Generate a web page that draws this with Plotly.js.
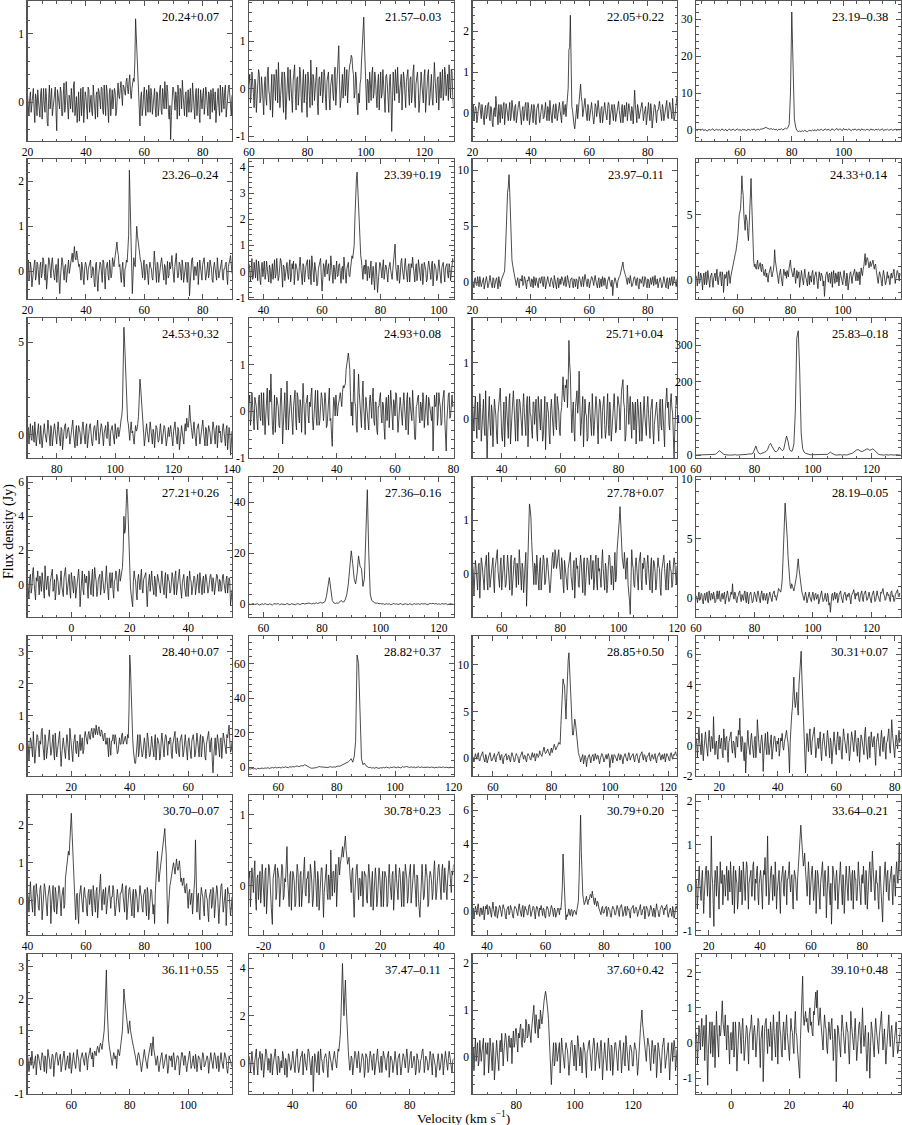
<!DOCTYPE html>
<html><head><meta charset="utf-8">
<script src="https://cdn.plot.ly/plotly-3.0.1.min.js"></script>
<style>html,body{margin:0;padding:0;background:#fff}</style>
</head><body><div id="chart" style="width:902px;height:1125px"></div>
<script>
// ---- source names ----
const names = ['20.24+0.07','21.57–0.03','22.05+0.22','23.19–0.38',
'23.26–0.24','23.39+0.19','23.97–0.11','24.33+0.14',
'24.53+0.32','24.93+0.08','25.71+0.04','25.83–0.18',
'27.21+0.26','27.36–0.16','27.78+0.07','28.19–0.05',
'28.40+0.07','28.82+0.37','28.85+0.50','30.31+0.07',
'30.70–0.07','30.78+0.23','30.79+0.20','33.64–0.21',
'36.11+0.55','37.47–0.11','37.60+0.42','39.10+0.48'];
// ---- axis ranges (km/s, Jy) ----
const xRange = [[20,90],[60,130],[20,90],[43,122],
[20,90],[35,105],[20,90],[44,122],
[70,140],[10,80],[30,100],[60,130],
[-15,55],[55,125],[50,120],[60,130],
[5,75],[50,120],[53,123],[12,82],
[40,110],[-25,45],[35,105],[15,95],
[45,115],[25,95],[65,135],[-12,58]];
const yRange = [[-0.57,1.48],[-1.1,1.84],[-0.7,2.75],[-3,35],
[-0.62,2.5],[-1.05,4.3],[-1.5,11],[-1.5,9.3],
[-1.25,6.3],[-1.0,2.0],[-0.7,1.8],[-8,375],
[-1.9,6.3],[-5,50],[-0.8,1.8],[-1.6,10.2],
[-0.9,3.5],[-5,76],[-1.9,13.1],[-2,7.2],
[-0.9,2.78],[-0.7,1.28],[-1.4,6.9],[-1.1,2.15],
[-1.0,3.4],[-1.3,4.6],[-0.8,2.2],[-1.45,2.53]];
const xTicks = [[20,40,60,80],[60,80,100,120],[20,40,60,80],[60,80,100],
[20,40,60,80],[40,60,80,100],[20,40,60,80],[60,80,100],
[80,100,120,140],[20,40,60,80],[40,60,80,100],[60,80,100,120],
[0,20,40],[60,80,100,120],[60,80,100,120],[60,80,100,120],
[20,40,60],[60,80,100,120],[60,80,100,120],[20,40,60,80],
[40,60,80,100],[-20,0,20,40],[40,60,80,100],[20,40,60,80],
[60,80,100],[40,60,80],[80,100,120],[0,20,40]];
const yTicks = [[0,1],[-1,0,1],[0,1,2],[0,10,20,30],
[0,1,2],[-1,0,1,2,3,4],[0,5,10],[0,5],
[0,5],[-1,0,1],[0,1],[0,100,200,300],
[0,2,4,6],[0,20,40],[0,1],[0,5,10],
[0,1,2,3],[0,20,40,60],[0,5,10],[-2,0,2,4,6],
[0,1,2],[0,1],[0,2,4,6],[-1,0,1,2],
[-1,0,1,2,3],[0,2,4],[0,1,2],[-1,0,1,2]];
// velocity of first and last channel of each spectrum (channels evenly spaced)
const vFirst = [20,60,20,43,20,35,20,44,70,10,30,60,-15,55,50,60,5,50,53,12,40,-25,35,15,45,25,65,-12];
const vLast  = [90,130,90,122,90,105,90,122,140,80,100,130,55,125,120,130,75,120,123,82,110,45,105,95,115,95,135,58];

// ---- flux density spectra (Jy) ----
const flux_20_24 = [.1,-.1,-.2,.05,.15,-.15,-.05,.1,.2,-.1,-.3,.12,.05,-.2,.18,.02,-.1,-.22,.12,.2,-.25,.08,.2,-.05,-.15,.2,.08,-.3,-.35,.05,.25,-.1,.1,.2,-.2,-.08,-.05,.15,.22,-.12,-.42,.18,.1,-.05,-.1,.22,.15,-.2,-.2,.1,.28,-.15,-.05,.3,.12,-.18,-.25,.1,.05,-.1,.2,.02,-.15,.25,.3,-.2,-.1,.08,-.3,.12,.15,-.28,.05,.2,-.2,.05,.22,-.3,-.12,.15,.08,-.1,-.25,.22,.18,-.15,.02,.1,-.15,-.2,.25,.12,-.05,-.25,.1,.15,-.22,.2,.15,-.05,-.1,.22,.2,-.12,-.18,.25,.05,-.2,.25,.15,-.08,-.3,.12,.2,-.2,.05,.18,-.1,0,.2,.15,-.2,-.12,.25,.28,.1,.05,.2,.3,.1,-.05,.25,.22,.15,.1,.3,.35,.2,.12,.3,.4,.15,.05,.2,.25,.35,.3,.6,1.22,.95,.62,.3,.18,-.15,-.35,.05,.15,-.2,-.1,.12,.22,-.05,-.2,.18,.08,-.15,.25,.1,-.15,.2,.1,-.18,-.05,.12,.2,-.1,-.22,.15,.12,-.2,-.08,.18,.25,-.12,-.18,.2,.05,-.1,.3,.05,-.1,.25,.15,-.15,-.25,-.05,-.55,-.2,.1,.22,.2,-.05,-.12,.15,.05,-.25,.25,.1,-.2,.2,.15,-.1,.32,.12,-.05,-.2,.1,.15,-.22,.05,.18,-.15,.05,.2,-.15,-.1,.28,.02,-.08,-.25,.12,.2,-.2,.05,.2,-.15,-.3,.18,.05,-.1,.1,.2,-.18,-.05,.22,.15,-.05,-.2,.15,.1,-.25,.18,.08,-.15,.2,.05,-.12,.15,-.3,-.1,.12,.2,-.08,-.2,.25,.1,-.15,.22,.05,-.1,.18,.25,-.22,-.05,.1,.2,.25,.1,-.05,-.2,.1];
const flux_21_57 = [.1,.3,-.3,-.1,.35,.2,-.1,-.4,.2,.1,-.5,-.2,.15,.4,.3,-.3,-.2,.25,.05,-.35,-.55,.1,.25,-.2,-.35,.3,.45,-.05,-.15,-.45,.1,.3,-.6,-.2,.3,.15,-.25,.4,.2,-.3,.55,.05,-.4,-.15,.1,.35,-.2,-.5,.35,.2,-.65,-.3,.2,.45,-.1,-.25,.4,.1,-.3,-.5,.15,.35,.5,-.1,-.45,.2,.25,-.35,-.1,.45,.3,-.2,-.5,.1,.4,-.3,.05,.3,-.25,-.6,.35,.2,-.15,-.4,.6,.1,-.35,.3,.2,-.25,-.05,.15,.45,-.3,-.55,.2,.25,-.15,.1,.35,-.3,-.1,.4,.25,-.2,-.45,.15,.3,.35,-.2,-.45,.05,.2,.3,-.1,-.25,.3,.45,-.35,.05,.25,.5,.9,.2,-.4,-.25,.15,.3,-.2,.1,.45,-.15,.1,.4,-.3,.25,.35,.5,.55,.7,.65,.4,.3,-.2,-.1,.35,.2,-.3,-.55,-.1,-.3,.1,.2,.6,1.05,1.2,1.5,.9,.4,-.1,-.45,.2,.15,-.3,.35,.1,-.25,.3,.45,-.2,-.1,.35,.2,-.15,-.4,.1,.3,-.45,.05,.35,-.2,-.1,.4,.15,-.35,-.5,.25,.3,.1,-.4,-.5,.15,.3,-.15,-.9,-.3,.35,.1,-.25,.4,.2,-.1,.45,.2,-.3,-.05,.1,.3,-.45,-.1,.35,.2,-.2,-.4,.15,.25,.4,-.1,-.35,.2,.25,-.3,-.1,.35,.5,-.2,-.4,.1,.2,.35,.05,-.5,-.3,.2,.35,.1,-.15,-.3,.25,.4,-.5,-.1,.15,.3,.4,-.35,-.2,.15,.3,-.2,-.35,.1,.55,.2,-.1,-.3,.2,.25,-.45,.1,.35,-.2,.1,.4,-.25,-.1,.45,.3,-.15,.05,.3,-.25,.5,.1,-.2,.4,.35,-.15,-.4];
const flux_22_05 = [.05,.2,-.2,-.05,.15,.1,-.25,-.1,.1,.25,.2,-.05,-.15,.2,.05,-.2,-.3,.1,.18,-.15,-.05,.2,.25,-.1,-.2,.15,.1,-.25,-.35,.05,.12,-.1,.4,.15,-.1,-.3,.2,.05,-.25,.2,.05,-.15,.15,.25,-.3,-.05,.22,.1,-.1,-.2,.08,.25,-.2,-.1,.3,.15,-.05,-.2,.15,.2,-.25,-.05,.1,.2,.28,.05,-.15,-.3,.05,.15,-.2,-.1,.18,.25,-.1,-.2,.25,.1,-.3,-.15,.12,.2,-.05,-.25,.2,.1,-.18,-.3,.1,.2,.22,-.05,-.25,-.1,.05,.2,.15,-.15,-.12,.1,.25,-.05,-.2,.15,.08,-.2,.3,.05,-.15,-.25,.1,.2,-.05,-.15,.22,.1,-.2,-.05,.15,.25,.05,-.1,-.25,.2,.28,-.05,.1,.2,-.1,.1,.35,.6,1.55,1.6,2.4,.5,.15,.05,-.2,-.3,-.4,-.1,.1,.2,-.15,.05,.3,.45,.7,.4,.25,-.1,.05,.2,.35,.1,-.1,-.2,.2,.1,-.2,-.05,.15,.25,.05,-.1,-.28,-.1,.22,.15,-.1,.05,.3,.1,-.15,-.25,.1,.15,-.25,-.1,.2,.25,.05,-.15,-.18,.1,.25,.2,-.3,-.05,.12,.2,-.05,-.2,.2,.1,-.22,-.1,.1,.2,.28,.05,-.15,-.25,.05,.2,-.25,-.05,.18,-.1,.1,.25,-.2,-.05,.22,.1,-.05,-.2,.15,.05,-.28,.15,.55,.2,-.1,-.25,.2,.1,-.15,-.05,.05,.2,.25,.1,-.2,-.05,.1,.15,-.3,-.15,.15,.25,-.05,-.2,.22,.05,-.38,-.15,.1,.2,.18,-.1,-.25,.05,.05,.15,.28,.1,-.12,-.2,.2,.1,-.2,-.05,.1,.25,.3,-.1,-.15,.1,.25,.15,-.05,-.15,.35,.1,-.2,-.1,.15,.3,.4];
const flux_23_19 = [.1,-.2,.2,0,-.1,.3,-.2,.1,0,-.3,.2,-.1,.1,.3,-.2,0,.2,-.1,.1,-.2,.3,0,-.1,.2,-.3,.1,.2,-.1,0,.2,-.2,.1,.3,-.1,.1,-.2,.2,0,.1,-.3,.2,.1,-.1,.2,0,.3,-.2,.1,.2,-.1,.3,.2,.4,.5,.7,.5,.3,.2,.4,.1,.3,0,.2,-.1,.2,.1,.3,0,.2,.5,.3,.6,1.5,10,32,17,3,.8,-.2,-.4,-.3,-.5,-.2,-.4,-.1,-.3,-.5,-.2,-.1,-.3,0,-.2,.1,-.3,.2,-.1,0,.2,-.2,.1,.3,-.1,.2,0,-.2,.3,.1,-.1,.2,.4,-.1,.3,.1,-.2,.4,0,.2,-.1,.3,.1,-.2,.2,0,.3,-.1,.1,.2,-.2,.3,0,.1,-.1,.2,.1,-.2,.3,0,.1,-.1,.2,0,.2,-.1,.1,.3,-.2,.1,0,.2,-.1,.1,.2,-.1,0,.2,-.1,.1,0,.2];
const flux_23_26 = [.1,.25,-.2,-.1,.2,.05,-.35,-.1,.05,.15,.25,-.2,-.1,.2,.15,-.25,-.3,.1,.2,-.15,-.05,.3,.25,-.05,-.2,.15,-.4,-.2,.1,.3,.22,-.1,-.15,.2,.3,.05,-.1,-.2,.05,.15,-.25,.1,.28,-.2,-.5,-.15,.1,.3,.2,-.05,-.2,.1,.15,-.25,-.1,.2,.25,-.05,.05,.2,.3,.4,.2,.35,.55,.3,.25,.45,.35,.2,.1,.15,-.05,-.2,.2,.1,-.15,-.3,.05,.2,.15,-.1,-.2,.05,.1,.2,.25,-.15,-.1,.1,.05,-.25,-.35,.15,.2,-.2,-.45,-.1,.1,.2,.15,-.1,-.25,.25,.2,-.1,-.4,.05,.12,.2,-.1,-.2,.25,.1,-.15,-.05,.3,.2,.1,.25,.35,.5,.65,.45,.35,.1,.15,-.1,-.25,.05,.2,-.15,-.35,.05,.1,.25,.2,.5,.8,2.25,1.3,.75,.2,-.5,-.2,.3,.15,.1,.6,1.0,.8,.65,.45,.3,.25,.2,.05,-.15,.1,.25,-.2,-.1,.15,.15,-.1,-.3,.05,.2,.1,.05,-.15,-.2,.1,.45,.2,-.1,-.25,.2,.15,-.25,-.05,.1,.2,.3,.05,-.05,-.2,.15,.1,-.3,.05,.22,-.15,-.1,.2,.05,.15,.35,.1,-.2,-.25,.1,.2,.4,.05,-.15,-.1,.2,.15,-.05,-.2,.25,.1,-.25,-.1,.1,.2,-.1,-.25,.2,.1,-.55,-.2,.15,.25,.3,-.05,-.2,.1,.1,-.1,.05,.2,-.3,-.05,.25,.1,-.1,-.2,.15,.25,.3,.05,-.2,-.1,.1,.2,-.15,-.05,.25,.15,.05,-.2,-.25,.1,.2,.05,-.1,-.2,.3,.1,-.15,-.05,.1,.2,.25,-.1,-.2,.05,.05,.15,.2,-.1,-.3,.1,.15,.25,.35,.1,-.05];
const flux_23_39 = [.3,.1,-.4,.2,.5,-.3,-.2,.35,.1,-.25,.45,.1,-.35,.4,.2,-.3,-.5,.15,.35,-.2,.05,.4,-.3,-.1,.4,.2,-.15,-.4,.25,.1,-.45,.2,.3,-.3,.1,.45,-.25,-.1,.5,.2,-.35,-.2,.15,.5,.4,-.1,-.6,.25,.2,-.35,-.1,.3,.35,-.1,-.3,.2,.45,-.4,-.2,.3,.1,.4,-.5,-.1,.3,.2,.05,-.35,-.25,.2,.55,.1,-.15,-.5,.3,.2,-.4,.1,.2,.35,.45,-.2,-.3,.45,.1,-.5,.6,.2,-.2,-.4,.35,.15,-.1,-.55,-.45,.1,.25,.4,.5,-.2,-.75,-.3,.3,.15,-.2,.35,.45,-.1,.1,.3,-.35,-.1,.6,.2,-.1,-.45,.25,.15,-.3,.35,.4,-.2,-.15,.25,.3,-.1,-.45,.1,.2,-.3,.55,.2,-.25,-.45,.1,.3,.35,-.15,-.2,.1,.3,.6,.5,.7,1.0,2.0,3.0,3.5,3.8,3.0,2.5,1.5,1.0,.6,.4,.1,-.3,.2,.25,-.1,.45,.1,-.35,.2,.15,-.25,.3,.4,-.5,-.1,.2,-.3,-.7,.1,.35,-.2,-.8,-.4,.1,.35,.3,-.1,-.25,.2,.45,-.3,-.1,.25,.2,-.1,-.4,.05,.3,.35,.05,-.2,-.3,.1,.4,.6,1.05,.2,-.2,-.35,.25,.1,-.45,-.2,.35,.5,.1,-.1,-.3,.2,.5,.1,-.15,-.4,.2,.3,-.4,-.1,.3,.15,.55,.2,-.25,-.4,.1,.3,-.35,-.1,.45,.2,-.1,-.35,.2,.3,-.5,-.15,.35,.2,.05,-.4,-.3,.15,.4,.2,-.15,-.3,.25,.4,-.55,-.1,.3,.2,.1,-.35,-.25,.15,.45,.1,-.2,-.45,.15,.35,.35,-.1,-.4,.15,.2,.3,-.1,-.25,.3,.15,-.35,-.1,.25,.5,.4];
const flux_23_97 = [.2,-.1,-.5,.3,.4,-.2,-.3,.5,.1,-.4,.5,.2,-.4,-.1,.2,.4,-.6,-.2,.3,.5,.1,-.5,-.3,.2,.6,.1,-.2,-.5,.4,.3,-.5,.1,.2,.4,-.1,-.6,.5,.2,-.4,.1,.3,.4,.6,.7,1.0,2.5,5.0,7.0,8.0,8.5,9.6,8.0,5.2,3.5,2.0,1.5,1.1,.8,.6,.2,-.3,.1,.4,-.2,-.5,.3,.2,.1,.6,-.3,-.2,.5,.3,-.4,-.6,.2,.1,.5,.4,-.2,-.4,.3,.2,-.5,.5,.1,-.3,.4,.1,-.2,-.5,.3,.4,-.1,.2,.5,-.2,-.4,.5,.3,-.6,-.1,.3,.5,.1,-.4,-.4,.2,.4,.1,-.1,-.5,.6,.3,-.3,-.6,.2,.4,-.5,.2,.3,-.2,.5,.4,-.2,-.3,.1,.5,-.4,-.1,.6,.3,-.3,-.5,.2,.4,.4,-.2,-.5,.3,.1,-.4,.3,.2,-.6,-.1,.5,.3,-.2,-.4,.2,.5,-.4,.1,.7,.3,-.1,-.4,.3,.2,-.5,-.2,.2,.5,.4,-.3,-.3,.3,.6,.1,-.2,-.5,.1,.4,-.5,.2,.3,-.4,.5,.2,-.3,.4,.2,-.5,-.6,.1,.4,.5,.1,-.3,-.4,.2,-1.2,-.3,.3,.4,.2,-.2,-.5,.1,.4,.5,.6,1.0,1.3,1.6,1.8,1.2,.8,.7,.5,.1,-.2,.4,.3,-.1,.6,.2,-.4,-.3,.2,.4,.5,-.2,-.3,.3,.4,-.4,-.6,.3,.2,-.1,.1,.5,-.4,-.2,.5,.4,-.2,-.5,.3,.2,-.5,.1,.4,-.2,.2,.5,-.3,.4,.6,-.2,-.1,.3,-.5,-.1,.3,.4,.1,-.5,-.4,.3,.5,.1,-.2,-.5,.3,.4,-.6,.1,.4,-.3,.1,.5,-.3,-.1,.5,.2,-.2,-.4,.3];
const flux_24_33 = [.3,.1,-.5,.2,.6,-.3,-.2,.5,.4,-.1,-.8,.2,.5,-.4,.1,.6,-.4,-.1,.7,.2,-.3,-.6,.2,.4,.5,-.2,-.6,.1,.4,.5,-.1,.3,.8,-.2,-.4,.2,.3,.6,-.2,-.5,.6,.3,-1.0,-.3,.4,.1,.2,.6,-.5,.2,.7,.3,-.3,.2,.5,.8,1.0,1.2,1.5,1.8,2.0,2.2,2.5,3.0,3.5,4.5,5.0,5.2,5.5,6.5,8.0,7.0,6.5,5.0,4.0,3.8,5.0,4.8,4.5,3.5,3.0,4.0,5.5,7.0,7.8,6.0,4.0,2.5,1.5,1.0,1.2,.9,.8,1.2,1.5,.8,1.0,1.1,1.3,.8,.6,1.2,1.0,.5,.3,.6,.8,.2,.5,.1,-.2,.4,.6,.8,1.0,.4,.2,.5,.7,1.2,2.3,1.5,1.0,.6,.4,.1,-.3,.3,.6,.8,.2,-.1,-.5,.3,.8,.5,.3,.6,.1,.7,.5,.2,.9,1.2,1.5,.9,.6,.4,.2,.5,.9,.3,-.3,.2,.7,.1,.4,.6,-.6,-.1,.5,.7,.2,-.3,-.4,.4,.8,.2,.1,-.2,-.5,.3,.6,-.4,.3,.1,-.2,.5,.7,.1,-.4,.2,.5,.6,.2,-.5,-.7,.1,.6,.2,-.1,.5,.4,.2,-.5,-.1,-1.3,-.2,.3,.5,.6,.1,-.2,.4,.5,-.3,.1,.6,-.6,.2,.7,.1,-.3,.5,.4,-.2,.2,.6,-.5,-.1,.6,.3,.1,-.3,-.4,.4,.7,.2,-.2,-.5,.5,.3,-.8,-.2,.3,.5,.6,.1,-.3,.2,.4,.5,.8,.3,-.1,.6,.5,-.1,.2,.6,-.4,.3,.9,.5,.3,.8,1.0,1.5,2.0,1.1,1.3,1.7,1.6,1.0,.9,1.2,1.4,1.0,1.1,1.3,1.5,1.0,.8,1.1,1.2,.7,.4,.1,-.3,.2,.6,.4,.2,-.3,-.5,.3,.7,.4,.1,-.4,-.2,.4,.6,.1,.3,-.2,-.4,.3,.5,.1,.2,.6,.8,.2,-.3,.1,.4,.7,.6,.2,-.1,.5,.3];
const flux_24_53 = [.2,.4,-.5,.1,.6,-.2,-.3,.5,.1,-.4,.7,.2,-.6,-.1,.3,.6,-.2,-.5,.5,.1,-.7,-.2,.4,.6,.1,-.3,-.4,.2,.8,.3,-.2,-.6,.5,.2,-.6,.1,.3,.6,.1,-.4,-.5,.3,.7,.1,-.3,-.6,.4,.3,-.8,-.1,.2,.5,.6,-.2,-.1,.3,.4,.1,-.5,-.2,.3,.5,.8,.1,-.4,-.7,.2,.5,-.6,-.2,.5,.3,.1,-.5,-.3,.4,.7,.2,-.2,-.5,.4,.6,-.7,-.2,.3,.5,.6,-.1,-.4,-.6,.1,.4,.5,-.2,-.3,.4,.8,.2,-.5,-.1,.2,.6,.4,-.3,-.6,.1,.3,.5,-.1,-.2,.7,.4,-.4,-.6,.2,.3,.5,.1,-.3,-.5,.6,.2,-.2,.3,.4,-.1,.1,.4,.8,1.0,1.5,3.0,5.8,5.0,4.0,2.0,1.0,.8,.6,.2,-.3,.3,.7,.1,.2,-.2,-.5,.1,.5,.2,.3,.6,1.0,2.0,3.0,2.5,2.0,1.2,.5,.1,-.6,-.2,.4,.6,.2,-.3,-.4,.2,.7,.3,-.2,-.5,.3,.1,-.7,-.2,.5,.4,.1,-.4,-.3,.3,.6,.1,-.5,-.2,.2,.5,.4,-.1,-.6,-.3,.3,.4,-.1,.2,.5,.1,-.4,-.6,.2,.4,.7,.1,-.3,-.5,.4,.2,-.8,-.3,.3,.5,.1,-.2,-.5,.3,.6,.2,.9,.5,.4,.8,1.6,.9,.5,.1,-.2,.3,.7,.1,-.4,-.6,.3,.5,.6,.1,-.5,-.2,.2,.6,.8,.2,-.3,-.6,.4,.3,-.6,-.2,.5,.3,.1,-.5,-.4,.2,.7,.4,-.2,-.5,.3,.5,-.7,-.2,.5,.1,.2,-.4,-.4,.3,.6,.2,-.1,-.6,.3,.5,-.8,-.2,.4,.1,-1.1,-.5,.2];
const flux_24_93 = [.2,.35,-.3,-.1,.4,.1,-.1,-.4,.3,.2,.1,-.2,-.4,.25,.35,-.1,-.2,.4,.15,-.3,.4,.1,-.5,-.1,.25,.5,-.1,-.3,.45,.2,.8,.1,-.3,-.5,.2,.35,-.45,-.1,.3,.2,.1,-.3,-.35,.2,.5,.1,-.7,-.3,.2,.4,-.15,-.4,.65,.2,-.4,-.1,.3,.35,.05,-.2,-.5,.1,.35,.45,-.2,-.4,.4,.3,-.1,-.25,.25,.1,-.45,-.1,.6,.25,-.3,-.5,.15,.3,.35,-.1,-.25,.2,.1,.35,.5,-.2,-.4,-.1,.2,.45,-.1,-.3,.45,.15,-.3,-.2,.1,.4,.3,-.1,-.2,.1,.4,.2,-.35,-.3,.05,.3,.5,-.2,-.15,-.5,-.75,-.1,.3,.2,-.1,.35,.2,-.1,.1,.25,.3,.4,.25,.1,.4,.55,.5,.6,.6,.9,1.05,1.2,1.25,1.1,.9,.3,-.1,.2,-.3,.4,.9,.2,.1,-.3,-.45,.3,.8,.4,.2,-.2,-.35,.3,.65,.1,-.2,-.4,.3,.1,.05,-.3,-.4,.2,.35,.1,-.15,.3,.5,-.2,-.3,.2,.2,-.4,-.5,.1,.1,.3,.4,-.1,-.25,.2,.15,-.35,-.6,.1,.3,-.2,.05,.35,-.35,.1,.45,.2,-.2,-.4,.25,.15,-.1,.4,.35,-.1,-.45,-.2,.2,.3,.1,-.2,-.3,.15,.4,.1,-.15,-.4,.25,.4,-.5,-.2,.3,.1,-.05,-.2,.45,.2,-.2,-.6,-.6,.1,.15,.3,.35,-.1,-.25,.2,.1,-.2,.4,.3,-.35,-.1,.2,.35,-.1,-.3,.3,.15,.05,-.2,-.2,.1,-.85,-.3,.35,.1,.15,.4,-.3,-.1,.4,.2,.1,-.3,-.25,.2,.3,.45,-.15,-.4,-.85,-.2,.2,.35,.4,-.15,-.1,.2,.35,.1,.15];
const flux_25_71 = [.3,.1,-.2,.2,.4,-.1,-.35,.3,.1,-.2,.45,.2,-.4,-.1,.2,.35,-.15,-.3,.5,.1,-.75,-.2,.3,.4,-.1,-.3,.25,.1,-.5,-.15,.35,.2,.05,-.3,-.45,.1,.2,.4,.55,-.1,-.3,-.4,.1,.3,-.5,-.1,.4,.15,-.2,-.35,.3,.45,-.45,-.1,.15,.3,.5,.1,-.25,-.4,.2,.35,-.4,-.1,.35,.3,.1,-.2,-.3,.2,.45,.1,-.15,-.3,.25,.4,-.5,-.2,.4,.1,.05,-.2,-.35,.3,.3,-.1,.15,.35,-.25,-.4,.4,.2,-.1,-.2,.35,.1,-.4,-.3,.2,.4,-.55,-.1,.3,.2,.1,-.3,-.45,.15,.35,.1,-.2,-.3,.25,.45,-.1,-.2,.4,.3,.15,-.2,-.3,.1,.2,.5,.75,.4,.3,.6,.55,.7,.2,.6,1.4,1.0,.8,.2,-.25,.1,.3,-.2,-.4,.2,.35,.5,.1,.3,.85,.2,-.3,-.1,.2,.4,-.5,-.2,.35,.1,.05,-.4,-.35,.2,.3,.1,-.15,-.3,.45,.2,-.3,-.1,.1,.4,.25,-.2,-.45,.1,.35,.3,-.2,-.35,.15,.3,.4,-.1,-.35,-.2,.2,.45,-.1,-.3,.3,.1,-.4,-.2,.15,.35,.45,.1,-.25,-.2,.1,.4,.3,.2,-.2,.4,.5,.6,.7,.3,.2,-.4,-.3,.1,.6,.3,-.1,.2,.4,-.1,-.35,.3,.25,-.2,.1,.3,-.45,-.1,.35,.2,-.15,-.4,.3,.1,-.4,-.2,.2,.4,.05,-.25,-.3,.2,.4,.1,-.2,-.35,.15,.3,.35,-.2,-.45,-.1,.1,.3,.3,.1,-.25,-.4,.2,.35,-.1,-.2,.35,.1,-.3,-.5,.15,.4,.55,.2,.3,-.1,-.2,.3,.45,.2,.1,-.3,-.7,-.2,.3,.4,.25];
const flux_25_83 = [0,0,1,0,0,1,0,0,1,0,0,1,1,2,4,8,12,9,5,2,1,0,1,0,0,1,0,1,0,0,1,0,1,2,1,2,3,2,3,5,14,25,12,5,3,4,6,8,10,15,26,32,24,15,10,9,13,22,18,12,15,30,52,38,16,10,12,30,120,320,340,230,60,18,8,5,3,2,1,1,1,0,1,0,1,1,0,1,2,1,2,5,8,5,2,1,0,1,0,1,0,1,1,0,1,2,3,5,8,12,14,15,12,10,10,12,15,17,16,13,15,17,14,9,5,2,1,0,1,0,1,0,0,1,0,1,0,1,0,0,1];
const flux_27_21 = [.3,-.2,-.8,.4,.6,-.5,-.2,.7,1.0,.1,-.5,-.9,.4,.2,.8,-.3,-.6,.5,.2,-.4,.7,.3,-.4,-.8,1.1,.5,-.3,.2,.5,-.6,-.7,.1,.3,.6,.9,-.4,-.2,.3,-.9,-.5,.6,.4,.1,-.6,-.5,.2,.8,-.1,-.3,-.7,.4,.6,1.0,.2,-.6,-.2,.2,.6,-.4,-.8,.7,.4,-.2,-.5,.5,.3,-.8,-.4,.3,.7,.9,.2,-1.3,-.5,.4,.8,-.3,-.6,.6,.1,.1,.5,-.5,-.8,.8,.2,-.2,-.6,.4,.9,-.7,-.1,1.0,.5,.2,-.7,-.4,.3,.5,.6,-.6,-.2,.8,.3,.1,-.5,-.3,.4,1.1,.2,-.5,-.9,.4,.7,-.2,.1,.7,-.3,-.8,.2,.3,.8,.6,-.2,-.4,.5,.9,.2,.4,.6,1.0,2.0,4.0,3.0,3.2,4.5,5.6,5.0,3.5,1.5,.5,-.2,-.6,-1.0,-1.3,.2,.8,.4,.2,-.5,-.9,.3,.6,.1,-.3,.4,.9,-.2,-.5,.3,.4,.6,.7,-.5,-1.3,-.2,.3,.6,-.4,.2,.8,.1,-.2,-.6,.5,.3,-.7,.2,.6,.4,.1,-.2,-.5,.3,.8,.1,-.3,-.6,.4,.7,-.8,-.1,.6,.3,.2,-.5,-.4,.1,.7,.4,-.2,-.6,.5,.8,-.6,-.2,.3,.6,.9,.1,-.4,-.8,.1,.4,.6,-.1,-.5,-.7,.3,.5,-.7,-.1,.8,.3,.2,-.6,-.3,.1,.5,.4,-.6,-.2,.4,.6,-.1,-.5,.7,.2,-.4,-.6,.3,.5,-.5,-.1,.6,.4,.1,-.5,-.3,.2,.5,.6,-.2,-.4,.4,.1,-.6,-.3,.3,.6,.5,-.2,-.4,.3,.2,-.4,-.3,.5,.6,.1,-.2,-.5,.3,.5,-.5,-.1,.4,.2,-1.2,-.8,-.3];
const flux_27_36 = [.2,-.2,.1,.3,-.1,0,.2,-.3,.1,.2,-.1,.3,0,-.2,.2,.1,-.3,.2,0,.1,.3,-.2,.1,0,.2,-.1,.3,.1,-.2,.2,0,.1,-.2,.3,.1,-.1,.2,.4,.1,.3,.2,.5,.3,.1,.4,.2,.6,.3,.5,.8,.4,.6,1.0,3.0,8.0,10.5,6.0,1.5,.6,.3,.5,.4,.8,1.5,1.0,.9,2.0,4.0,8.0,15,21,16,10,8.0,12,19,15,14,7.0,10,30,45,20,4.0,1.5,1.0,.6,.4,.5,.2,.3,.1,.2,-.1,.3,0,.2,-.2,.1,.3,0,.2,-.1,.1,.3,-.2,.1,.2,0,-.1,.2,.1,-.2,.3,0,.1,.2,-.1,.3,.1,0,.2,-.2,.1,.3,.2,.4,.1,.3,0,.2,-.1,.3,.1,0,.2,-.2,.1,.3,0,.1];
const flux_27_78 = [.2,.05,-.4,-.1,.25,.1,-.1,-.3,.15,.2,-.45,-.1,.3,.2,.05,-.2,-.3,.1,.2,.35,-.15,-.3,.4,.1,-.25,-.1,.1,.25,.3,-.15,-.35,.1,.2,.3,.45,.05,-.1,-.25,.15,.3,-.3,-.1,.25,.35,.05,-.25,-.2,.1,.35,.15,-.1,-.3,.2,.35,-.4,-.2,.15,.25,.3,-.1,-.25,.2,.1,-.2,.45,.2,-.15,-.3,.2,.1,-.35,-.1,.25,.4,-.6,-.2,.6,1.0,1.3,1.2,1.05,.6,.3,.1,-.2,.2,.15,-.2,.35,.1,-.1,-.3,.2,.3,-.3,-.1,.1,.35,.25,-.2,-.15,.1,.3,.2,.05,-.1,-.35,-.2,.2,.3,.4,.1,.15,.45,.35,.1,.2,.3,.45,.2,.1,-.1,.3,.2,-.2,-.35,.25,.1,.05,-.25,-.3,.1,.2,.35,.4,-.05,-.15,-.3,.1,.25,-.45,-.2,.3,.1,.15,-.2,-.25,.15,.35,.2,-.1,-.35,.2,.3,-.4,-.1,.1,.3,.25,-.05,-.2,.2,.35,-.1,.05,.25,-.3,-.15,.2,.35,-.15,-.3,.3,.05,.1,-.15,-.25,.2,.45,.1,-.1,-.3,.2,.1,-.35,-.2,.15,.35,.3,-.1,-.2,.15,.1,-.3,.25,.4,-.15,-.05,.45,.6,.8,1.0,1.25,.9,.5,.3,.2,.1,.4,.2,-.1,.25,.3,-.2,-.3,-.5,-.75,.1,.45,.2,.1,-.2,-.25,.15,.3,.1,-.15,-.3,.2,.35,.4,-.1,-.3,.2,.1,.3,.25,-.1,-.2,.15,.35,.1,-.1,-.3,.15,.3,-.35,-.1,.25,.2,.05,-.3,-.2,.1,.3,.15,.1,-.25,-.4,.05,.2,.3,.35,.1,-.15,-.3,.1,.2,-.3,-.05,.25,.1,.05,-.25,-.2,.15,.3,.2,-.1,-.2,.15];
const flux_28_19 = [.2,.1,-.4,.3,.5,-.2,-.1,.4,.3,-.3,-.5,.2,.4,-.2,.1,.5,-.3,-.4,.6,.1,-.2,.4,.3,-.1,.5,.2,-.4,-.3,.2,.6,-.1,.3,.6,-.2,-.3,.3,.4,-.1,.1,.5,-.5,-.1,.3,.6,.2,-.3,-.2,.3,.5,.3,1.2,.2,-.1,.5,.4,-.2,-.4,.1,.2,.5,.6,-.1,-.3,.3,.1,-.2,.4,.6,-.2,-.4,.5,.1,-.5,.2,.3,.5,.1,-.4,-.3,.2,.5,.3,-.1,-.3,.4,.6,.2,-.1,-.4,.3,.6,.1,-.2,.4,.3,-.2,.1,.4,-.5,-.1,.4,.5,.2,-.1,-.3,.3,.5,.6,.1,.2,-.2,.4,.4,.8,.7,.6,.5,.9,1.5,3.0,5.0,6.5,8.0,7.0,6.2,5.0,3.5,2.5,1.5,1.0,.8,1.2,1.0,.7,.6,.9,1.2,1.6,2.0,2.8,3.3,2.5,2.0,1.2,.8,.5,.3,.1,-.2,.2,.5,.1,-.4,-.1,.3,.5,.1,-.3,-.3,.2,.5,.1,-.2,.3,.4,-.1,.1,.3,-.5,-.2,.3,.5,.6,.1,-.3,-.2,.2,.4,-.1,-.3,.4,.2,-.6,-.4,-1.2,-.2,.3,.4,-.2,.1,.5,-.1,.1,.4,-.4,-.2,.3,.5,.6,.1,-.3,-.4,.2,.4,.5,.1,-.2,.3,.1,.4,.4,-.1,-.5,.2,.3,.5,.7,.2,-.1,.4,.2,.3,.5,-.1,-.3,.2,.4,.6,-.1,-.3,.3,.5,.6,.2,-.2,-.1,.4,.5,.1,-.3,-.4,.2,.5,.6,.2,-.3,-.2,.4,.6,.2,.1,-.2,-.3,.5,.4,.6,.8,.3,.2,-.2,-.1,.4,.5,.2,.3,-.1,-.3,.5,.6,.1,.2,-.3,-.2,.3,.4,.6,.7,.2,.1,.4,.3];
const flux_28_40 = [.2,.05,-.4,-.1,.3,.2,-.1,-.3,.5,.1,-.5,-.2,.2,.4,.35,-.1,-.3,.2,.1,.5,.6,.1,-.2,-.4,.4,.2,-.35,-.1,.1,.3,.55,.1,-.25,-.1,.3,.4,-.15,-.4,.45,.2,-.3,-.1,.2,.4,.5,-.1,-.6,-.2,.25,.3,.05,-.3,-.35,.1,.4,.2,-.2,-.4,.6,.3,.15,-.2,-.45,.1,.3,.4,-.1,-.2,.2,.1,-.3,.3,.4,-.1,.1,.3,-.2,-.1,.3,.5,.35,.2,.1,.4,.5,.3,.25,.5,.6,.4,.3,.6,.55,.4,.7,.5,.4,.6,.65,.4,.35,.55,.5,.3,.2,.4,.45,.1,.1,.3,-.1,-.3,.3,.1,-.25,.2,.2,.4,.35,.1,.4,.3,.05,-.2,-.15,.2,.3,.1,.1,.4,.45,.1,.2,.3,.35,.2,.1,.4,.3,1.2,2.9,2.5,1.55,.6,.3,-.1,-.4,-.5,-.5,-.2,.2,.4,-.3,-.1,.4,.2,.1,-.3,-.2,.2,.3,.1,-.35,-.2,.45,.3,.05,-.3,-.25,.2,.35,.1,-.1,-.3,.2,.4,-.4,-.1,.3,.2,.1,-.4,-.3,.2,.45,.2,-.15,-.3,.2,.4,.35,-.1,-.25,.2,.1,.3,.3,-.2,-.35,.1,.25,.4,.5,-.1,-.2,.3,.15,-.2,-.3,.2,.35,.4,.1,-.3,-.15,.2,.4,.1,-.25,-.4,.2,.3,.05,-.2,-.35,.2,.3,.4,.15,-.3,-.2,.1,.45,.2,-.1,-.3,.25,.4,-.3,-.1,.35,.2,.1,-.3,-.4,.1,.2,.4,.5,.1,-.15,.2,.3,-.4,-.8,-.3,.1,.3,-.25,.1,.4,.2,-.1,-.3,.25,.3,-.35,.1,.45,.3,.1,-.2,-.2,.4,.3,.5,.7,.2,-.15,-.1,.2];
const flux_28_82 = [-.8,-1.0,-.6,-.9,-.7,-1.1,-.5,-.8,-.6,-.4,-.7,-.3,-.5,-.2,-.6,-.3,-.1,-.4,.1,-.3,-.2,0,-.4,.2,-.1,.3,0,-.2,.4,.1,.5,.2,.6,.8,.4,.9,1.0,.8,1.5,1.2,.6,.2,-.3,-.5,-.4,-.6,-.2,.1,.5,.3,.2,.4,.1,.3,-.1,.2,.4,0,.3,.1,.5,.8,.6,1.0,1.3,1.8,2.2,2.8,3.2,4.0,5.0,3.0,6.0,15,65,60,25,5.0,1.5,2.5,1.0,.4,-.2,.1,-.4,-.2,-.5,-.1,-.3,-.6,-.2,-.4,0,-.3,.2,-.1,-.4,.1,-.2,.3,0,-.2,.2,.1,-.3,.4,.1,.3,.5,.2,-.1,.3,0,.2,-.2,.1,.3,-.1,.2,0,.1,-.2,.3,.1,-.1,.2,0,-.3,.1,-.2,.2,0,-.1,.3,-.2,.1,0,-.3,.1,-.2,0];
const flux_28_85 = [.2,.1,-.4,.3,.5,.2,-.1,.4,.6,-.2,-.3,.1,.3,.5,.7,.1,-.2,-.4,.4,.2,-.5,-.1,.2,.4,.6,.1,-.3,-.2,.1,.3,.5,-.1,-.4,.2,.3,.5,.7,.1,-.2,.3,.4,-.3,-.6,.1,.2,.4,.5,-.2,-.1,.3,.3,-.2,-.4,.2,.6,.3,.1,-.4,-.3,.2,.5,.3,.2,-.3,-.5,.1,.4,.6,.7,.2,-.1,.3,.3,-.2,-.4,.2,.5,.3,.2,-.1,-.2,.4,.6,.1,.3,.5,-.3,.1,.5,.4,.1,.3,.8,.5,.4,.2,.6,.9,1.2,.7,.5,.6,.9,1.0,.7,.4,.3,.8,1.1,.6,.8,1.2,1.5,1.0,.9,1.1,1.2,1.4,1.7,1.5,1.5,3.5,6.0,7.5,8.5,8.0,7.8,6.0,4.2,6.5,9.0,10.5,11.3,9.5,7.0,5.0,3.0,2.5,2.5,3.5,4.2,3.8,3.0,2.0,1.0,.6,.3,.1,-.4,-.1,.2,.4,-.6,-.2,.3,.1,-.9,-.3,.1,.3,.4,-.2,-.5,.1,.2,.4,-.3,-.1,.5,.2,-.1,.3,.3,-.2,-.6,-.1,.2,.5,.4,.1,-.4,-.1,.3,.4,-.1,.2,.5,.1,-1.0,-.3,.2,.4,-.5,-.1,.4,.3,.1,-.2,-.3,.2,.5,.1,-.2,.4,.3,-.1,-.6,.1,.4,.5,.1,-.2,-.3,.2,.6,.3,-.2,.1,.2,.4,.5,-.1,-.4,.2,.3,.5,.1,-.3,-.5,.2,.4,.6,.7,.1,-.2,.4,.3,-.1,-.4,.2,.2,.4,.6,-.1,-.3,.3,.4,.1,-.1,.3,.5,-.2,-.5,.1,.3,.6,.6,.2,-.2,.3,.4,-.1,.1,.5,-.4,-.1,.5,.3,.2,-.2,-.3,.4,.6,.2,-.1,.4,.3,.5,.7,.4,.2];
const flux_30_31 = [.5,.1,-.8,.4,1.2,.3,-.3,-.6,.8,.2,-1.0,-.2,.6,.9,.2,-.4,-.7,.3,1.0,.2,-.4,.6,.5,-.2,1.9,.4,-.6,.1,.3,-.5,-.9,.4,.7,-.2,.1,.5,-.5,-.8,1.1,.3,-.3,.5,.6,-.4,-1.1,.2,.4,.8,.9,-.2,-.5,.3,.2,-.4,-.8,.6,.5,-.1,1.0,.7,1.8,.2,-.4,.6,.3,-.5,-1.0,.2,-1.8,-.6,.6,1.0,.1,-.3,-.6,.4,.8,.1,-.3,-.8,.4,.6,-.8,-.1,1.7,.5,.2,-.4,-.5,.3,.7,.1,-1.7,-.5,.3,.8,-.2,-.6,.9,.4,-.6,-.2,.4,.7,-.9,-.3,.2,.6,.6,-.2,-.4,.3,.1,.5,-.7,-.2,.5,.3,.8,-.1,-.3,.2,.6,.9,1.0,.5,.2,-.5,-1.8,.3,1.5,2.0,2.5,3.5,4.5,3.0,2.5,3.0,3.5,2.5,2.0,4.0,5.0,6.0,6.2,4.5,3.0,2.0,1.0,-.5,-1.8,-.2,.8,.3,-.4,.6,1.1,-.2,-.6,.3,.5,.9,1.2,.1,-.8,-.3,.3,.5,-.2,.2,.9,-.4,-1.0,.1,.6,.8,.1,-.4,-.7,.3,1.0,.5,-.4,-.8,.5,.2,-1.2,-.4,.7,.9,.2,-.3,-.6,.4,.9,.2,-.3,.6,.4,-.5,-.9,.3,1.1,.6,.2,-.4,-.5,.3,.8,.1,-1.0,-.5,.3,.9,.6,-.2,-.4,.5,1.0,.3,-.2,-.7,.5,.2,-1.1,-.3,.7,.5,.1,-.2,-.6,.8,1.2,.1,-.3,-.9,.4,.6,-.8,-.2,.9,.3,-.1,.4,.6,-.5,-1.3,.2,.5,.8,.2,-.3,-.7,.4,1.0,.2,-.4,.5,.6,-.3,-.9,.2,.3,.7,1.1,-.1,-.5,.4,1.7,.8,.4,-.3,-.8,.1,.7,.3,-.2,.5,1.0,.2,.5];
const flux_30_70 = [.2,.1,-.3,.2,.5,.1,-.1,-.3,.3,.4,-.4,-.1,.45,.2,.1,-.2,-.25,.3,.4,.1,-.5,-.2,.2,.45,.35,.1,-.3,-.4,.1,.3,.4,.2,-.6,-.1,.25,.4,-.2,-.3,.35,.2,-.35,-.1,.05,.4,.3,-.2,-.4,.1,.2,.35,-.2,-.1,.6,.8,.9,1.0,1.3,1.2,1.6,2.0,2.3,1.8,1.4,.8,.3,-.2,-.5,.1,.2,-.3,-.6,.1,.3,.4,.1,-.2,-.3,.2,.35,.1,.05,-.3,-.4,.2,.3,-.1,.15,.3,-.2,-.4,.4,.2,-.1,-.3,.25,.35,-.45,-.1,.2,.4,.7,.1,-.25,.2,.3,-.1,.05,.35,-.35,-.1,.2,.3,.4,-.2,-.2,.1,.1,.4,.3,-.1,-.4,-.2,.25,.3,.1,-.2,-.3,.2,.2,.3,.45,.1,-.15,-.3,.3,.4,-.5,-.1,.1,.3,.35,.1,-.2,-.4,.15,.3,-.45,-.1,.3,.2,.05,-.3,-.25,.1,.4,.2,.1,-.2,-.3,.15,.2,.3,-.15,-.4,.35,.2,-.5,-.2,.1,.3,.25,-.2,-.35,-.1,-.6,.2,.5,1.0,1.3,.8,.5,.7,.9,1.1,1.3,1.5,1.7,1.8,1.9,1.5,1.2,.2,-.6,-.2,.3,.4,.5,.7,.8,.9,1.0,.8,.7,.9,1.1,.9,.8,.9,1.05,.8,.5,.6,.4,.5,.6,.3,.2,.4,.45,.1,-.2,.2,.3,-.1,.1,.2,-.35,.1,.4,.6,1.6,.2,-.3,.1,.2,-.3,-.5,.1,.35,.2,.1,-.2,-.4,.2,.3,.1,.05,-.3,-.55,.1,.25,.3,-.2,-.1,.35,.2,-.45,-.2,.15,.4,.3,-.1,-.6,-.2,.2,.4,.45,.1,-.3,-.1,.1,.3,-.65,-.1,.35,.2,.2,-.1,-.4,-.2,.1];
const flux_30_78 = [.1,.2,-.3,-.1,.25,.1,-.1,.2,.35,-.2,-.35,.1,.15,-.2,.05,.2,-.25,-.1,.3,.1,-.15,-.3,.2,.25,-.4,-.1,.1,.3,.25,-.1,-.2,-.4,-.55,.1,.15,.2,.3,-.2,-.1,.25,.2,.1,-.3,-.1,.1,.3,.25,-.2,-.15,.1,.05,.3,.55,.1,-.2,-.3,.15,.2,-.35,-.1,.2,.15,.05,-.3,-.25,.1,.3,.2,-.1,-.3,.15,.2,-.3,-.1,.2,.3,.4,-.1,-.15,.1,.1,.2,-.25,-.1,.3,.2,.05,-.3,-.2,.1,.35,.15,-.1,-.3,.2,.1,-.35,-.05,.15,.25,.25,-.1,-.45,-.1,.1,.2,.3,-.1,-.2,.15,.05,-.2,.5,.1,-.15,.2,.2,-.1,.1,.3,-.3,.1,.25,.4,.15,.3,.35,.45,.55,.4,.5,.6,.7,.5,.4,.3,.35,.4,.2,.1,-.1,.2,.25,-.2,-.45,-.1,.15,.25,.3,-.1,-.2,.1,.1,-.15,.05,.2,-.3,-.1,.2,.15,.15,-.2,-.25,.1,.3,.15,-.1,-.3,.05,.2,-.35,-.1,.2,.25,.1,-.3,-.2,.1,.25,.15,-.15,-.3,.05,.2,-.3,-.1,.2,.15,.1,-.3,-.25,.1,.3,.05,-.05,-.2,.15,.2,-.35,-.1,.2,.3,.1,-.2,-.2,.1,.25,.15,-.1,-.3,.05,.2,-.3,-.1,.3,.2,.1,-.25,-.15,.1,.2,.3,-.25,-.1,.05,.2,.3,.1,-.1,-.3,.15,.1,-.2,-.3,-.45,-.2,.25,.3,.05,-.2,-.15,.1,.3,.2,.1,-.3,-.25,.1,.2,.15,.05,-.2,-.1,.2,.35,.1,-.2,-.1,.15,.25,.3,.1,-.1,-.2,.2,.3,.05,-.1,.25,.1,-.15,-.2,.1,.25,.35,.2,-.05,-.1,.2,.15,.3];
const flux_30_79 = [.1,.2,-.4,-.1,.3,.1,-.2,.3,.45,-.1,-.3,.2,.2,-.2,.05,.3,-.5,-.1,.3,.15,.4,-.2,-.15,.3,.2,-.1,-.35,.2,.55,.1,-.1,-.3,.3,.2,-.4,-.1,.15,.35,.25,-.2,-.3,.1,.4,.2,.1,-.3,-.45,.1,.2,.3,-.2,-.1,.35,.2,.05,-.3,-.4,.1,.3,.2,.15,-.1,-.25,.2,.45,.1,-.1,-.3,.2,.35,-.35,-.1,.3,.1,.1,-.2,-.2,.3,.4,.1,-.3,-.1,.15,.3,.25,-.2,-.45,.1,.3,.2,-.1,-.3,.2,.1,.35,-.1,-.25,.2,.1,-.3,-.4,.1,.3,.2,.05,-.3,-.2,.1,.35,.2,-.1,-.3,.2,.1,-.35,-.1,.15,.2,.1,-.2,.2,.1,.6,1.5,3.4,2.0,1.2,.2,-.5,-.2,-.3,.1,.15,-.2,-.25,.1,.1,-.3,-.1,.05,.05,-.2,-.2,.1,.3,.6,2.0,4.0,5.7,3.5,2.0,1.0,.7,.4,.5,.8,.9,.6,.4,.7,.7,1.0,1.0,.8,1.2,.9,.6,.4,.8,.5,.3,.6,.5,.2,.1,-.1,-.2,.2,.3,-.1,-.1,.1,.2,.3,-.3,-.1,.25,.1,.05,-.3,-.35,.1,.3,.2,.1,-.2,-.2,.1,.35,.2,-.15,-.3,.2,.4,.4,.1,-.3,-.1,.1,.3,-.25,-.2,.3,.1,.15,-.2,-.4,.1,.2,.35,.35,-.1,-.1,.2,.25,.1,-.3,-.1,.05,.3,.4,-.2,-.2,.1,.15,.3,-.45,-.1,.3,.2,.1,-.3,-.25,.1,.35,.2,-.1,-.3,.2,.1,-.35,.2,.45,.1,.05,-.3,-.3,.1,.2,.35,.3,-.1,-.2,.2,.1,.3,.4,-.1,-.35,-.1,.15,.2,-.1,-.3,.3,.1,-.4,-.2,.25,.3,.1];
const flux_33_64 = [.2,.1,-.5,-.2,.3,.5,.1,-.1,-.3,.2,.4,-.1,-.6,-.2,.2,.4,.5,.1,-.2,.4,.3,-.1,-.7,.2,1.2,.3,.1,-.4,-.9,.1,.4,.2,-.2,.5,.3,-.1,-.5,.2,.6,.1,.1,.4,-.4,-.1,.3,.2,-.2,.1,.5,.2,-.3,.4,.2,-.1,.6,.3,-.1,-.4,.3,.5,-.6,-.2,.4,.2,.1,-.5,-.3,.2,.5,-.1,.2,.4,-.4,-.2,.6,.3,-.1,-.3,.3,.6,.5,-.1,-.5,.1,.2,.3,.4,-.2,-.2,.5,.6,.1,-.3,.2,.1,.4,.5,-.2,-.4,.1,.3,.4,.2,-.3,-.5,.2,.4,.3,.7,.2,-.2,.4,1.2,.3,-.4,-.2,.3,.4,.5,-.1,-.3,.3,.2,-.2,.6,.2,-.5,-.1,.1,.3,.4,-.2,-.6,.1,.3,.5,.5,-.1,-.2,.3,.4,.1,-.4,.2,.2,.4,.6,.1,-.1,.2,.3,-.2,-.5,.1,.4,.3,.2,-.1,-.3,.2,.5,.6,.8,1.1,1.45,1.2,1.0,.7,.5,.6,.8,.5,.3,.1,-.2,.2,.6,.3,-.4,-.1,.3,.4,.5,.2,-.3,-.1,.2,.4,-.6,-.2,.4,.3,.1,-.2,-.5,.1,.3,.4,.6,.1,-.2,.3,.4,.1,-.7,-.2,.3,.5,.1,-.2,-.4,.1,-.85,-.3,.5,.4,.2,-.1,-.3,.2,.4,.1,-.5,-.2,.1,.4,.6,.2,-.2,-.4,.3,.1,-.6,-.1,.4,.5,.2,-.1,-.3,.2,.5,.3,-.1,-.3,.3,.4,-.5,-.1,.4,.2,.2,-.3,-.3,.1,.6,.3,.1,-.2,-.4,.2,.3,.1,.5,.2,-.2,-.4,.4,.2,-.5,-.1,.2,.4,.6,.1,-.1,.3,.85,.5,.3,-.1,-.3,.2,.4,.1,.1,-.3,-.5,.2,.5,.1,-.2,-.5,-.8,-.2,.3,.4,.6,.2,-.1,.3,.4,-.2,-.3,.1,.2,.4,.5,-.1,-.4,.2,.3,.1,-.2,.4,.6,.3,.1,.5,1.05,.4,.2];
const flux_36_11 = [.2,.05,-.3,.1,.15,-.1,.35,.1,-.2,-.1,.1,.2,-.4,-.1,.25,.2,.05,-.2,-.25,.1,.3,.2,-.1,-.3,.2,.1,-.35,-.1,.4,.2,.1,-.2,-.2,.1,.25,.2,-.45,-.1,.15,.3,.3,.1,-.1,.05,.2,.25,-.3,-.1,.1,.2,.35,.1,-.25,-.1,.15,.2,-.1,-.2,.3,.1,-.35,-.1,.2,.3,.05,-.1,-.2,.1,.4,.2,.1,-.2,-.3,.1,.25,.3,.15,.05,-.1,.2,.3,.1,-.25,.1,.2,.3,.45,.2,.1,.3,-.15,.2,.35,.3,.2,.4,.5,.4,.3,.5,.6,.5,.4,.6,.8,1.0,1.5,2.2,2.9,1.8,1.0,.7,.5,.3,.2,.1,-.1,.1,.3,.2,.1,.2,-.2,.2,.4,.3,.2,.4,.6,.8,1.0,1.6,2.3,2.0,1.8,1.5,1.2,1.0,.9,1.1,1.3,1.0,.8,.7,.6,.5,.4,.3,.2,.1,-.1,.2,.3,.2,.1,-.1,-.3,-.1,.2,.3,.4,.2,.1,-.1,-.2,.1,.3,.4,.5,.6,.2,.5,.8,.4,.3,.1,-.1,.1,.2,-.1,-.3,-.1,.15,.2,.3,.1,-.2,-.1,.1,.2,.25,-.1,-.35,-.2,.2,.1,.05,.2,-.15,.1,.3,.1,-.25,-.1,.1,.2,.2,.1,-.4,-.2,.15,.3,.3,.1,-.1,.2,.2,-.1,-.3,-.1,.05,.2,.35,.1,-.2,-.1,.15,.2,-.1,-.2,.25,.1,-.3,-.1,.2,.15,.1,-.2,-.25,.1,.3,.2,-.15,-.1,.05,.2,.2,.1,-.35,-.1,.25,.3,.1,-.1,-.2,.1,.3,.2,-.1,-.2,.15,.2,-.3,-.1,.25,.3,.05,-.1,-.2,.1,.3,.2,.1,-.2,-.35,-.1,.2,.1,.05,-.1,-.15];
const flux_37_47 = [.3,.1,-.4,.2,.5,.1,-.2,-.5,.1,.4,.6,-.1,-.5,.2,.2,.5,-.1,-.3,.4,.1,-.6,-.2,.3,.6,.5,-.1,-.3,.2,.1,-.4,.4,.3,-.5,-.1,.2,.4,.6,.1,-.2,-.5,.3,.2,-.4,.1,.1,-.2,.5,.3,-.3,-.5,.2,.1,-.6,-.2,.4,.3,.1,-.3,-.2,.2,.5,.1,-.3,-.4,.2,.4,.6,-.1,-.4,-.2,.1,.3,.3,.5,-.5,-.2,.4,.1,-.1,-.3,.2,.6,.5,.2,-.3,-.5,.1,.3,-1.2,-.3,.4,.2,-.2,-.4,.3,.5,-.5,-.1,.6,.2,.1,-.3,-.4,.2,.3,.4,.2,-.3,-.6,.1,.5,.3,.1,-.2,-.3,.1,.4,.5,.2,-.1,-.2,.2,.6,.5,.8,1.2,2.0,3.2,4.2,3.0,2.0,2.8,3.5,2.5,1.5,1.0,.5,.1,-.3,-.1,.3,.2,-.5,-.2,.2,.5,.4,.1,-.2,.2,.5,.1,-.4,-.2,.1,.4,.3,.1,-.6,-.3,.4,.3,.2,-.4,-.3,.2,.5,.3,-.1,-.3,.3,.4,-.5,-.2,.2,.5,.6,.1,-.2,-.4,.1,.3,-.4,-.1,.5,.3,.2,-.2,-.3,.2,.4,.5,-.6,-.1,.3,.2,.1,-.4,-.2,.1,.5,.2,-.3,-.5,.2,.3,.4,-.1,-.5,-.2,.1,.4,.3,.1,-.2,.2,.6,.3,-.4,-.2,.2,.4,.5,-.2,-.1,.2,.3,.1,-.5,-.3,.4,.2,.1,-.4,-.3,.1,.2,.5,.6,.2,-.4,-.1,.3,.2,.1,-.3,-.2,.1,.5,.3,-.3,-.5,.4,.2,.2,-.1,-.6,-.2,.3,.4,.1,-.3,-.2,.1,.4,.3,-.5,-.1,.3,.5,.2,-.1,-.3,.2,.5,.3,.1,-.2,-.4,.1,.2];
const flux_37_60 = [.1,.2,-.3,.1,.4,-.1,.2,.3,-.2,-.1,.35,.2,-.1,.1,.25,.4,-.4,-.1,.3,.1,.05,.3,-.35,-.1,.4,.2,-.1,-.3,.3,.1,-.5,-.2,.2,.35,.1,-.2,-.3,.2,.35,.1,.5,.2,-.2,.1,.25,.5,.4,.1,-.1,.3,.45,.2,.2,.4,-.15,.3,.55,.2,.3,.6,.6,.3,.1,.5,.4,.6,.7,.3,.2,.6,.5,.3,.35,.8,.75,.4,.45,.7,.6,.5,.3,.6,.8,1.0,1.1,.7,.5,.9,.7,.5,.4,.8,.6,1.0,.9,.7,.85,1.1,1.2,1.3,1.4,1.3,1.2,1.0,.8,.5,.3,-.2,-.6,-.2,.1,.3,-.2,-.1,.3,.2,-.1,.1,.25,.3,-.35,-.1,.4,.2,.05,-.2,-.25,.1,.3,.2,.15,-.1,-.4,-.2,.2,.3,.35,.1,-.1,-.2,.25,.1,-.3,.2,.45,.3,-.05,-.2,.2,.1,-.35,-.1,.3,.2,.1,-.2,-.45,.1,.15,.3,.35,.1,-.2,-.3,.05,.2,.4,.3,-.3,-.1,.2,.3,.1,-.1,-.25,.2,.35,.1,-.5,-.2,.2,.3,.05,-.2,-.3,.1,.4,.2,-.1,-.3,.25,.2,-.4,-.1,.15,.3,.3,.1,-.2,-.3,.1,.2,.35,.1,-.35,-.1,.2,.3,-.15,-.2,.45,.2,.05,-.1,-.3,.1,.25,.2,.1,-.2,-.2,.1,.3,.2,.15,-.1,-.4,-.2,.2,.4,.6,.8,1.0,.7,.5,.4,.3,.1,-.1,.2,.4,.3,.2,-.1,-.3,.1,.35,.2,-.15,.1,.25,.1,-.45,-.2,.3,.2,.1,-.1,-.35,.1,.2,.3,.4,.1,-.25,-.1,.1,.2,.3,-.1,-.5,-.1,.2,.3,-.1,.1,.35,.2,-.3,-.1,.15];
const flux_39_10 = [.3,.1,-.6,-.2,.5,.3,-.2,.4,.7,-.1,.1,.5,-.5,.2,.8,-.3,-1.2,-.2,.4,.6,-.3,.1,.6,-.4,.2,.5,-.7,-.1,.9,.3,-.1,-.4,.5,.2,.3,.7,1.2,.6,.4,.2,.8,.1,-.2,.5,.5,-.1,-.6,.2,.3,-.2,.1,.6,-.4,-.1,.6,.2,-.8,-.3,.2,.6,.5,-.2,-.3,.4,.7,.1,-.5,-.2,.1,.5,.4,-.3,-.6,.2,.3,.5,.8,.1,-.2,.3,.5,.2,-.4,-.1,.2,.7,.6,-.2,-.7,.1,.3,.5,-1.1,-.2,.4,.6,.7,.1,-.3,.4,.2,-.1,.6,.3,-.5,.2,.8,.3,-.1,-.4,.4,.6,-.6,.1,.9,.4,.2,-.3,-.4,.3,.6,.2,-.2,.4,.8,.3,.1,-.3,-.5,.2,.7,.4,.3,-.1,-.3,.5,.9,.3,.2,-.2,-.4,-.6,-1.0,.1,.6,1.2,1.9,.8,.5,.7,.9,.6,.7,.4,.3,.8,1.0,.5,.6,.3,.2,.9,.8,1.2,1.45,1.0,1.5,.8,.5,.7,1.0,.6,.3,.1,-.2,.4,.8,.5,.4,-.1,-.3,.2,.6,.3,.1,.5,.7,.1,-.5,-.1,.4,.2,-1.1,-.3,.5,.4,.2,-.1,-.4,.3,.8,.5,.1,-.2,-.3,.2,.6,.4,.3,-.2,-.6,.1,.9,.5,.2,-.1,-.2,.3,.7,.1,-.5,-.2,.4,.5,.6,.1,-.3,.4,1.0,.3,-.1,.2,.5,-.2,-.8,-.3,.3,-.2,-1.0,-.1,.6,.4,.2,-.1,-.4,.3,.7,.4,.1,-.2,-.3,.2,.5,.7,.9,.3,-.2,.1,.4,-.1,-.6,-.2,.3,.5,.8,.2,-.1,.3,.5,.1,-.4,-.1,.2,.4,.6,.1,-.3,-.2,.1,.3,.4];

const fluxes = [flux_20_24,flux_21_57,flux_22_05,flux_23_19,flux_23_26,flux_23_39,flux_23_97,flux_24_33,
flux_24_53,flux_24_93,flux_25_71,flux_25_83,flux_27_21,flux_27_36,flux_27_78,flux_28_19,
flux_28_40,flux_28_82,flux_28_85,flux_30_31,flux_30_70,flux_30_78,flux_30_79,flux_33_64,
flux_36_11,flux_37_47,flux_37_60,flux_39_10];

// ---- layout geometry (pixels) ----
const W = 902, H = 1125;
const colLeft = [27.5, 249, 472.5, 696], panelW = 204.5;
const rowTop = [1, 159, 318, 477, 636, 795, 954], panelH = 140;
const FONT = 'Liberation Serif, Times New Roman, serif';
const frame = '#555555';

const traces = [];
const layout = {
  width: W, height: H, margin: {l:0, r:0, t:0, b:0},
  paper_bgcolor: '#fff', plot_bgcolor: '#fff', showlegend: false,
  font: {family: FONT, color: '#000', size: 12},
  annotations: []
};

for (let k = 0; k < names.length; k++) {
  const c = k % 4, r = Math.floor(k / 4), n = k + 1;
  const sx = n === 1 ? '' : String(n);
  const f = fluxes[k];
  const step = (vLast[k] - vFirst[k]) / (f.length - 1);
  const xs = f.map((_, i) => vFirst[k] + i * step);
  traces.push({x: xs, y: f, xaxis: 'x' + sx, yaxis: 'y' + sx, type: 'scatter', mode: 'lines',
    line: {color: '#202020', width: 0.8}, hoverinfo: 'skip'});
  const common = {showline: true, linecolor: frame, linewidth: 1.2, mirror: 'ticks', ticks: 'inside',
    ticklen: 5, tickwidth: 1, tickcolor: frame, showgrid: false, zeroline: false,
    tickfont: {family: FONT, size: 11.5, color: '#000'}, tickmode: 'array', fixedrange: true};
  const ys = yTicks[k][1] - yTicks[k][0];
  layout['xaxis' + sx] = Object.assign({}, common, {
    domain: [colLeft[c] / W, (colLeft[c] + panelW) / W], range: xRange[k], anchor: 'y' + sx,
    tickvals: xTicks[k], ticktext: xTicks[k].map(String), ticklabelstandoff: 0,
    minor: {tickmode: 'linear', tick0: 0, dtick: 5, ticks: 'inside', ticklen: 2.5, tickcolor: frame}
  });
  layout['yaxis' + sx] = Object.assign({}, common, {
    domain: [1 - (rowTop[r] + panelH) / H, 1 - rowTop[r] / H], range: yRange[k], anchor: 'x' + sx,
    tickvals: yTicks[k], ticktext: yTicks[k].map(String), ticklabelstandoff: 0,
    minor: {tickmode: 'linear', tick0: 0, dtick: ys / 5, ticks: 'inside', ticklen: 2.5, tickcolor: frame}
  });
  layout.annotations.push({xref: 'paper', yref: 'paper', x: (colLeft[c] + panelW - 11) / W,
    y: 1 - (rowTop[r] + 16) / H, xanchor: 'right', yanchor: 'middle', showarrow: false,
    text: names[k], font: {family: FONT, size: 12.5, color: '#000'}});
}
layout.annotations.push({xref: 'paper', yref: 'paper', x: 463 / W, y: 1 - 1117 / H,
  xanchor: 'center', yanchor: 'middle', showarrow: false,
  text: 'Velocity (km s<sup>−1</sup>)', font: {family: FONT, size: 13.5, color: '#000'}});
layout.annotations.push({xref: 'paper', yref: 'paper', x: 9 / W, y: 1 - 532 / H,
  xanchor: 'center', yanchor: 'middle', showarrow: false, textangle: -90,
  text: 'Flux density (Jy)', font: {family: FONT, size: 14, color: '#000'}});

Plotly.newPlot('chart', traces, layout, {staticPlot: true, displayModeBar: false});
</script>
</body></html>
